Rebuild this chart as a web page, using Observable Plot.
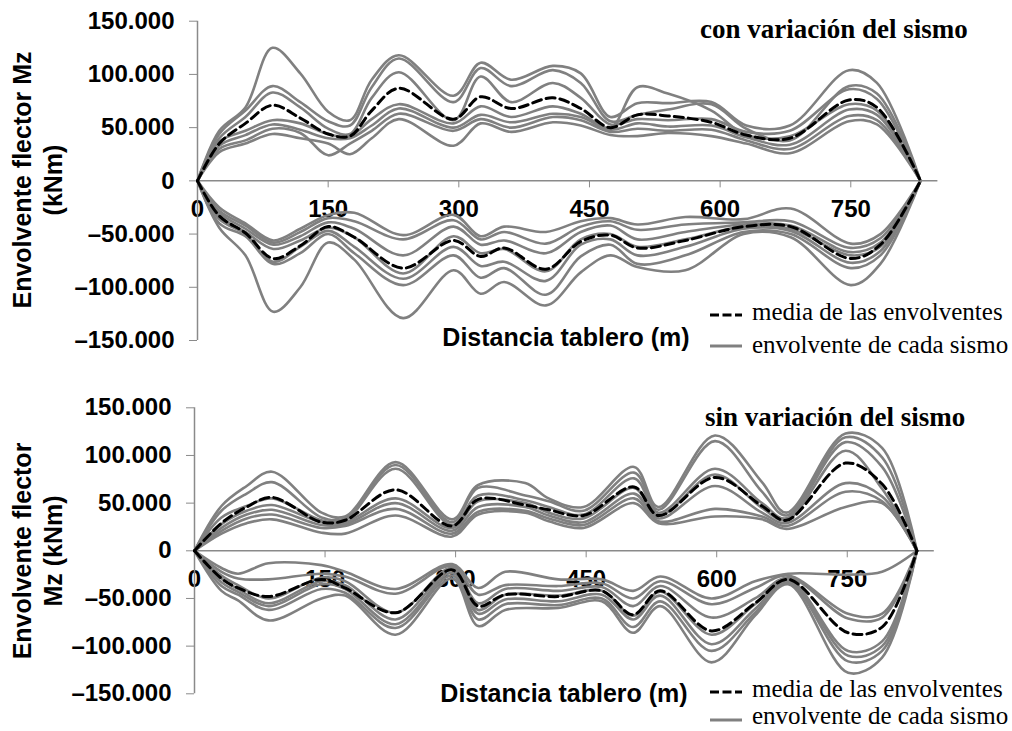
<!DOCTYPE html>
<html><head><meta charset="utf-8">
<script src="https://cdn.jsdelivr.net/npm/d3@7"></script>
<script src="https://cdn.jsdelivr.net/npm/@observablehq/plot@0.6"></script>
<style>
body{margin:0;background:#fff;}
#wrap{position:relative;width:1012px;height:731px;overflow:hidden;background:#fff;}
#wrap svg{position:absolute;left:0;}
.sans{font-family:"Liberation Sans",Arial,sans-serif;font-weight:bold;color:#000;}
.serif{font-family:"Liberation Serif","Times New Roman",serif;color:#000;}
.abs{position:absolute;white-space:nowrap;}
g[aria-label="y-axis tick"], g[aria-label="x-axis tick"]{stroke:#8a8a8a;}
</style></head><body><div id="wrap"></div>
<script>
// ---------- axis ticks / labels ----------
const xTicks = [0, 150, 300, 450, 600, 750];
const yTicks = [150, 100, 50, 0, -50, -100, -150];
const yTickLabels = ["150.000", "100.000", "50.000", "0", "–50.000", "–100.000", "–150.000"];
const panelTitles = ["con variación del sismo", "sin variación del sismo"];
const yTitles = [["Envolvente flector Mz", "(kNm)"], ["Envolvente flector", "Mz (kNm)"]];
const xTitle = "Distancia tablero (m)";
const legendLabels = ["media de las envolventes", "envolvente de cada sismo"];

// ---------- panel 1: con variación (positive envelopes) ----------
const conPosX = [0, 25, 55, 86, 118, 150, 175, 200, 231, 294, 325, 360, 408, 440, 474, 505, 540, 590, 630, 680, 748, 780, 830];
const conPosEnv = [
  [0,47,69,125,101,65,57,95,118,80,111,95,108,101,60,73,73,74,52,52,104,92,0],
  [0,44,66,89,74,56,52,88,115,74,106,89,104,92,56,62,67,72,49,38,89,82,0],
  [0,40,60,83,69,49,44,78,102,57,98,74,92,78,53,58,57,58,46,47,86,77,0],
  [0,37,47,57,54,44,42,58,72,54,70,60,70,63,50,88,82,66,43,42,72,66,0],
  [0,33,43,53,48,40,40,52,68,50,62,55,63,60,48,54,51,52,41,34,67,62,0],
  [0,30,38,49,45,24,35,47,63,47,58,50,60,57,46,49,47,48,38,30,61,57,0],
  [0,27,35,44,40,35,25,40,58,33,54,46,55,52,43,42,45,42,35,26,56,53,0]
];
const conPosMean = [0,35,54,71,59,44,42,66,87,58,79,68,78,68,50,62,61,55,43,40,76,69,0];

// ---------- panel 1: con variación (negative envelopes) ----------
const conNegX = [0, 25, 55, 87, 118, 150, 180, 236, 294, 325, 352, 400, 440, 474, 505, 560, 627, 681, 750, 784, 830];
const conNegEnv = [
  [0,-25,-40,-56,-45,-32,-30,-51,-32,-52,-43,-48,-38,-35,-41,-34,-36,-26,-59,-50,0],
  [0,-28,-42,-58,-48,-35,-38,-55,-37,-55,-48,-59,-43,-38,-46,-41,-39,-38,-63,-54,0],
  [0,-30,-45,-60,-52,-39,-45,-70,-43,-60,-56,-68,-48,-42,-55,-48,-41,-42,-67,-58,0],
  [0,-33,-48,-64,-56,-44,-53,-87,-52,-68,-64,-85,-55,-50,-62,-55,-43,-45,-70,-62,0],
  [0,-36,-50,-76,-62,-47,-62,-92,-62,-80,-76,-94,-60,-55,-70,-62,-45,-47,-77,-66,0],
  [0,-40,-52,-78,-68,-50,-68,-98,-70,-91,-82,-107,-71,-60,-78,-70,-48,-50,-82,-70,0],
  [0,-44,-70,-123,-100,-58,-74,-129,-84,-106,-95,-117,-86,-70,-81,-84,-50,-53,-98,-78,0]
];
const conNegMean = [0,-33,-49,-73,-61,-43,-53,-82,-56,-71,-63,-83,-57,-51,-63,-56,-43,-43,-73,-60,0];

// ---------- panel 2: sin variación (positive envelopes) ----------
const sinPosX = [0, 31, 60, 89, 146, 173, 231, 296, 326, 380, 407, 447, 505, 533, 598, 652, 680, 748, 790, 830];
const sinPosEnv = [
  [0,47,68,83,40,36,93,33,69,71,55,46,88,46,121,72,40,123,108,0],
  [0,42,60,72,35,34,90,30,66,58,52,42,82,43,115,62,37,119,98,0],
  [0,35,47,55,32,32,86,27,58,53,46,38,76,40,86,50,34,114,88,0],
  [0,28,42,48,30,30,55,24,52,50,40,34,66,37,80,45,32,105,65,0],
  [0,24,38,43,27,28,50,21,46,46,37,30,60,34,68,40,29,71,57,0],
  [0,21,34,38,24,26,44,18,41,42,34,27,55,31,44,36,26,62,52,0],
  [0,18,29,33,19,18,37,15,38,40,31,24,50,29,36,33,23,46,50,0]
];
const sinPosMean = [0,29,46,56,30,32,64,26,54,48,43,37,67,37,77,47,32,92,70,0];

// ---------- panel 2: sin variación (negative envelopes) ----------
const sinNegX = [0, 31, 50, 85, 146, 173, 231, 296, 326, 357, 418, 468, 504, 535, 594, 644, 682, 751, 790, 830];
const sinNegEnv = [
  [0,-18,-24,-13,-15,-22,-40,-14,-39,-22,-30,-30,-42,-27,-50,-32,-24,-25,-22,0],
  [0,-22,-29,-30,-24,-27,-45,-16,-46,-36,-37,-34,-50,-32,-56,-39,-26,-66,-66,0],
  [0,-26,-36,-50,-28,-32,-65,-18,-55,-40,-42,-38,-58,-37,-70,-50,-28,-71,-70,0],
  [0,-29,-40,-55,-32,-36,-72,-20,-62,-46,-47,-42,-68,-43,-88,-56,-30,-105,-95,0],
  [0,-33,-43,-58,-35,-40,-77,-23,-66,-51,-53,-46,-72,-47,-98,-61,-31,-110,-100,0],
  [0,-37,-46,-62,-40,-44,-81,-26,-72,-56,-57,-50,-80,-53,-105,-65,-33,-116,-105,0],
  [0,-42,-52,-73,-50,-47,-88,-29,-79,-62,-60,-53,-86,-58,-117,-68,-35,-128,-112,0]
];
const sinNegMean = [0,-29,-39,-48,-30,-39,-65,-20,-58,-46,-48,-42,-67,-42,-84,-55,-30,-86,-80,0];

// ---------- helpers ----------
function envRows(xs, rows, tag) {
  return rows.flatMap((r, i) => r.map((v, j) => ({x: xs[j], y: v, s: tag + i})));
}
function meanRows(xs, vals, tag) {
  return vals.map((v, j) => ({x: xs[j], y: v, s: tag}));
}

const GREY = "#808080";
const AXIS = "#8a8a8a";
const FONT = "'Liberation Sans', Arial, sans-serif";

function panel(cfg) {
  const plotH = cfg.height - cfg.marginTop - cfg.marginBottom;
  const env = envRows(cfg.posX, cfg.posEnv, "p").concat(envRows(cfg.negX, cfg.negEnv, "n"));
  const mean = meanRows(cfg.posX, cfg.posMean, "mp").concat(meanRows(cfg.negX, cfg.negMean, "mn"));
  return Plot.plot({
    width: 1012,
    height: cfg.height,
    marginLeft: cfg.marginLeft,
    marginRight: cfg.marginRight,
    marginTop: cfg.marginTop,
    marginBottom: cfg.marginBottom,
    x: {domain: [0, 850]},
    y: {domain: [-150, 150]},
    style: {background: "transparent", overflow: "visible", fontFamily: FONT, fontSize: "24px", fontWeight: "bold", color: "#000"},
    marks: [
      Plot.axisY(yTicks, {anchor: "left", tickSize: 8, tickPadding: 15, stroke: AXIS, fill: "#000",
        fontSize: 24, fontWeight: "bold", label: null,
        tickFormat: d => yTickLabels[yTicks.indexOf(d)]}),
      Plot.axisX(xTicks, {anchor: "bottom", tickSize: 7, tickPadding: 12, stroke: AXIS, fill: "#000",
        fontSize: 24, fontWeight: "bold", label: null, dy: -plotH / 2,
        tickFormat: d => String(d)}),
      Plot.ruleY([0], {stroke: AXIS, strokeWidth: 1.5}),
      Plot.ruleX([0], {stroke: AXIS, strokeWidth: 1.5}),
      Plot.line(env, {x: "x", y: "y", z: "s", stroke: GREY, strokeWidth: 2.6, curve: "catmull-rom"}),
      Plot.line(mean, {x: "x", y: "y", z: "s", stroke: "#000", strokeWidth: 3, strokeDasharray: "9,5", curve: "catmull-rom"})
    ]
  });
}

const wrap = document.getElementById("wrap");

const p1 = panel({height: 365, marginTop: 20.7, marginBottom: 25, marginLeft: 197, marginRight: 74.6,
  posX: conPosX, posEnv: conPosEnv, posMean: conPosMean, negX: conNegX, negEnv: conNegEnv, negMean: conNegMean});
p1.style.top = "0px";
wrap.appendChild(p1);

const p2 = panel({height: 335, marginTop: 22.3, marginBottom: 26.7, marginLeft: 194, marginRight: 78.2,
  posX: sinPosX, posEnv: sinPosEnv, posMean: sinPosMean, negX: sinNegX, negEnv: sinNegEnv, negMean: sinNegMean});
p2.style.top = "385px";
wrap.appendChild(p2);

// ---------- annotations (HTML) ----------
function addDiv(cls, text, css) {
  const d = document.createElement("div");
  d.className = "abs " + cls;
  d.innerHTML = text;
  Object.assign(d.style, css);
  wrap.appendChild(d);
  return d;
}
// Y titles (rotated)
[[0, 180], [1, 551]].forEach(([i, cy]) => {
  addDiv("sans", yTitles[i][0] + "<br>" + yTitles[i][1], {
    left: "37.7px", top: cy + "px", fontSize: "25px", lineHeight: "31px", textAlign: "center",
    transform: "translate(-50%,-50%) rotate(-90deg)"
  });
});
// X titles
[[325, 566], [681, 564]].forEach(([top, cx]) => {
  addDiv("sans", xTitle, {left: cx + "px", top: top + "px", fontSize: "25px", lineHeight: "25px", transform: "translateX(-50%)"});
});
// Panel titles
addDiv("serif", "<b>" + panelTitles[0] + "</b>", {left: "700px", top: "16px", fontSize: "27px", lineHeight: "27px"});
addDiv("serif", "<b>" + panelTitles[1] + "</b>", {left: "705px", top: "404px", fontSize: "27px", lineHeight: "27px"});
// Legends
function legend(y1, y2, t1, t2) {
  const ns = "http://www.w3.org/2000/svg";
  const s = document.createElementNS(ns, "svg");
  s.setAttribute("width", 40); s.setAttribute("height", 60);
  s.style.position = "absolute"; s.style.left = "706px"; s.style.top = (y1 - 10) + "px";
  const l1 = document.createElementNS(ns, "line");
  l1.setAttribute("x1", 4); l1.setAttribute("x2", 36); l1.setAttribute("y1", 10); l1.setAttribute("y2", 10);
  l1.setAttribute("stroke", "#000"); l1.setAttribute("stroke-width", 3); l1.setAttribute("stroke-dasharray", "9,3.5");
  const l2 = document.createElementNS(ns, "line");
  l2.setAttribute("x1", 4); l2.setAttribute("x2", 36); l2.setAttribute("y1", 10 + (y2 - y1)); l2.setAttribute("y2", 10 + (y2 - y1));
  l2.setAttribute("stroke", GREY); l2.setAttribute("stroke-width", 3);
  s.appendChild(l1); s.appendChild(l2);
  wrap.appendChild(s);
  addDiv("serif", legendLabels[0], {left: "752px", top: t1 + "px", fontSize: "25px", lineHeight: "25px"});
  addDiv("serif", legendLabels[1], {left: "752px", top: t2 + "px", fontSize: "25px", lineHeight: "25px"});
}
legend(315, 346, 299, 332);
legend(692, 720, 676, 703);
</script></body></html>
